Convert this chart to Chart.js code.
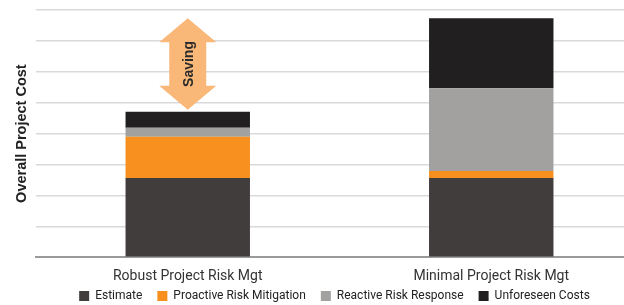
<!DOCTYPE html>
<html>
<head>
<meta charset="utf-8">
<script src="https://cdn.jsdelivr.net/npm/chart.js@4.4.1/dist/chart.umd.min.js"></script>
<style>
  html, body { margin: 0; padding: 0; background: #fff; overflow: hidden; }
  #wrap { width: 668px; height: 305px; position: relative; }
</style>
</head>
<body>
<div id="wrap"><canvas id="myChart"></canvas></div>
<script>
var categories = ['Robust Project Risk Mgt', 'Minimal Project Risk Mgt'];
var estimate = [2.56, 2.56];
var proactive = [1.34, 0.23];
var reactive = [0.29, 2.68];
var unforeseen = [0.52, 2.26];
var yTicks = [0, 1, 2, 3, 4, 5, 6, 7, 8];

var textColor = '#333333';

// double arrow between the two bar totals, over the first bar
var savingArrow = {
    id: 'savingArrow',
    afterDatasetsDraw: function (chart) {
        var x = chart.scales.x.getPixelForValue(0);
        var y = chart.scales.y;
        var tot = [0, 1].map(function (i) {
            return estimate[i] + proactive[i] + reactive[i] + unforeseen[i];
        });
        var top = y.getPixelForValue(tot[1]);
        var bot = y.getPixelForValue(tot[0]) - 2;
        var hw = 28.5, sw = 18.5, hh = 24;
        var c = chart.ctx;
        c.save();
        c.fillStyle = '#F9B878';
        c.beginPath();
        c.moveTo(x, top);
        c.lineTo(x + hw, top + hh);
        c.lineTo(x + sw, top + hh);
        c.lineTo(x + sw, bot - hh);
        c.lineTo(x + hw, bot - hh);
        c.lineTo(x, bot);
        c.lineTo(x - hw, bot - hh);
        c.lineTo(x - sw, bot - hh);
        c.lineTo(x - sw, top + hh);
        c.lineTo(x - hw, top + hh);
        c.closePath();
        c.fill();
        c.translate(x, (top + bot) / 2);
        c.rotate(-Math.PI / 2);
        c.fillStyle = '#2a2a2a';
        c.font = 'bold 14px "Liberation Sans", Arial, sans-serif';
        c.textAlign = 'center';
        c.textBaseline = 'middle';
        c.fillText('Saving', 0, 1);
        c.restore();
    }
};

// keep the legend row tight under the axis labels, nudged right a bit
var tightLegend = {
    id: 'tightLegend',
    beforeLayout: function (chart) {
        var lg = chart.legend;
        if (!lg || lg._tight) return;
        var fit = lg.fit;
        lg.fit = function () {
            fit.call(this);
            this.height = 18;
        };
        lg._tight = true;
    },
    afterLayout: function (chart) {
        chart.legend.left += 13;
        chart.legend.right += 13;
        chart.legend.top -= 12;
    }
};

new Chart(document.getElementById('myChart'), {
    type: 'bar',
    data: {
        labels: categories,
        datasets: [
            { label: 'Estimate', data: estimate, backgroundColor: '#403D3C' },
            { label: 'Proactive Risk Mitigation', data: proactive, backgroundColor: '#F7901E' },
            { label: 'Reactive Risk Response', data: reactive, backgroundColor: '#A2A19F' },
            { label: 'Unforeseen Costs', data: unforeseen, backgroundColor: '#221F20' }
        ]
    },
    options: {
        responsive: true,
        maintainAspectRatio: false,
        animation: false,
        layout: { padding: { top: 10, right: 25, left: 0, bottom: 0 } },
        datasets: { bar: { categoryPercentage: 1, barPercentage: 0.41 } },
        scales: {
            x: {
                stacked: true,
                grid: { display: false },
                border: { color: '#9a9a9a', width: 2 },
                ticks: {
                    color: textColor,
                    padding: 2.5,
                    font: { family: 'Roboto', size: 14 }
                }
            },
            y: {
                stacked: true,
                min: 0,
                max: 8,
                afterBuildTicks: function (axis) {
                    axis.ticks = yTicks.map(function (v) { return { value: v }; });
                },
                afterFit: function (axis) { axis.width = 36; },
                grid: { color: '#d9d9d9', lineWidth: 1.5, drawTicks: false },
                border: { display: false },
                ticks: { display: false },
                title: {
                    display: true,
                    text: 'Overall Project Cost',
                    color: '#222222',
                    padding: { top: 13, bottom: 0 },
                    font: { family: '"Liberation Sans", Arial, sans-serif', size: 14.5, weight: 'bold' }
                }
            }
        },
        plugins: {
            tooltip: { enabled: false },
            legend: {
                position: 'bottom',
                labels: {
                    color: '#222222',
                    boxWidth: 10,
                    boxHeight: 10,
                    padding: 15,
                    font: { family: 'Roboto', size: 12 }
                }
            }
        }
    },
    plugins: [savingArrow, tightLegend]
});
</script>
</body>
</html>
